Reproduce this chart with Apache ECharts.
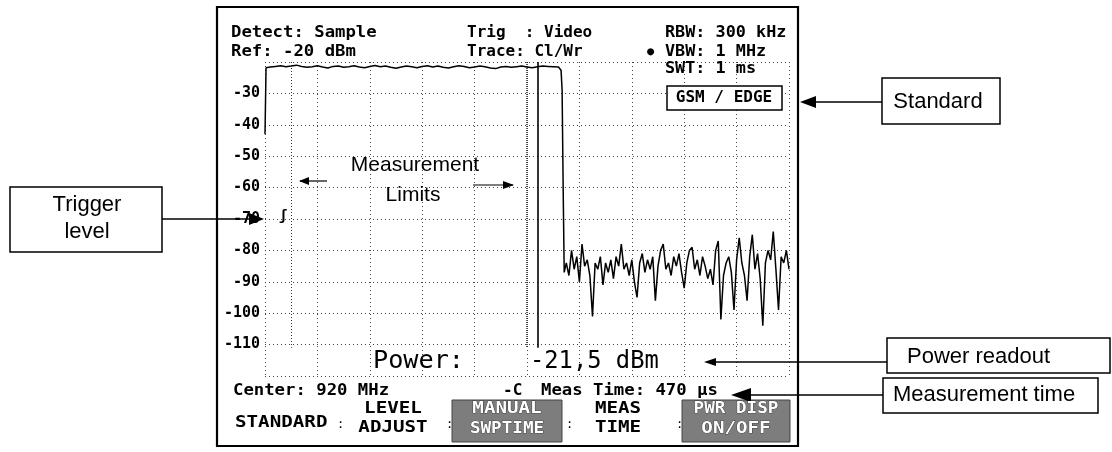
<!DOCTYPE html>
<html><head><meta charset="utf-8">
<script src="https://cdn.jsdelivr.net/npm/echarts@6/dist/echarts.min.js"></script>
<style>html,body{margin:0;padding:0;background:#fff}#c{width:1112px;height:452px}</style>
</head><body><div id="c"></div>
<script>
// ---- data (time in µs, level in dBm) ----
const yTicks = [-30,-40,-50,-60,-70,-80,-90,-100,-110];
const edgeTimes = [0, 2];
const edgeVals  = [-43, -21.8];
const burstStart = 10, burstStep = 10;
const burstVals = [
 -21.6,-21.4,-21.2,-21.5,-21.3,-21.0,-21.4,-21.7,-21.5,-21.2,
 -21.6,-21.9,-21.4,-21.3,-21.7,-21.5,-21.2,-21.6,-21.8,-21.4,
 -21.1,-21.5,-21.3,-21.7,-22.0,-21.6,-21.3,-21.5,-21.8,-21.4,
 -21.2,-21.6,-21.3,-21.7,-21.9,-21.5,-21.2,-21.4,-21.8,-21.6,
 -21.3,-21.5,-21.9,-22.1,-21.6,-21.4,-21.7,-21.5,-21.3,-21.6,
 -21.8,-21.5,-21.3,-21.4,-21.5,-21.6];
const fallTimes = [565, 567, 569, 571];
const fallVals  = [-22.6, -29, -60, -87];
const noiseStart = 575, noiseStep = 5;
const noiseVals = [
 -84,-88,-80,-86,-82,-90,-78,-85,-83,-88,
 -101,-84,-86,-82,-91,-84,-87,-83,-89,-82,
 -85,-78,-86,-84,-88,-83,-90,-95,-84,-81,
 -87,-83,-86,-82,-96,-85,-80,-78,-86,-84,
 -88,-82,-85,-81,-87,-92,-84,-80,-79,-86,
 -83,-88,-82,-85,-89,-86,-91,-80,-77,-102,
 -88,-84,-82,-87,-99,-83,-76,-84,-88,-96,
 -82,-75,-86,-81,-89,-104,-84,-80,-83,-74,
 -86,-99,-82,-84,-80,-86];
const limitLeft = 50, limitRightDotted = 500, limitRight = 520;
const limitTop = -20, limitBottom = -111;

const trace = [];
edgeTimes.forEach((t,i)=>trace.push([t, edgeVals[i]]));
burstVals.forEach((v,i)=>trace.push([burstStart + i*burstStep, v]));
fallTimes.forEach((t,i)=>trace.push([t, fallVals[i]]));
noiseVals.forEach((v,i)=>trace.push([noiseStart + i*noiseStep, v]));

// ---- drawing ----
const LCD = '"DejaVu Sans Mono", monospace';
const SANS = '"Liberation Sans", Arial, sans-serif';
function T(text, x, y, font, o) {
  o = o || {};
  return {type:'text', x:x, y:y, scaleX:o.sx||1, z:o.z||10, silent:true,
    style:{text:text, font:font, fill:o.fill||'#000',
      textAlign:o.align||'left', textVerticalAlign:'middle',
      align:o.align||'left', verticalAlign:'middle',
      stroke:o.stroke, lineWidth:o.lw||0}};
}
function R(x,y,w,h,o){o=o||{};return {type:'rect',silent:true,z:o.z||5,shape:{x:x,y:y,width:w,height:h},
  style:{fill:o.fill||'none',stroke:o.stroke===undefined?'#000':o.stroke,lineWidth:o.lw||1.5}};}
function L(x1,y1,x2,y2,o){o=o||{};return {type:'line',silent:true,z:o.z||6,shape:{x1:x1,y1:y1,x2:x2,y2:y2},
  style:{stroke:'#000',lineWidth:o.lw||1.2,lineDash:o.dash||null}};}
function P(pts){return {type:'polygon',silent:true,z:8,shape:{points:pts},style:{fill:'#000'}};}
function vLimit(x, style){return [{coord:[x, limitTop], lineStyle:style},{coord:[x, limitBottom]}];}

const hdr = 'bold 16px ' + LCD;
const graphics = [
  R(217,7,581,439,{lw:2.2}),
  T('Detect: Sample',231,33,hdr,{sx:1.08}),
  T('Ref: -20 dBm',231,52,hdr,{sx:1.08}),
  T('Trig  : Video',467,33,hdr,{sx:1.0}),
  T('Trace: Cl/Wr',467,52,hdr,{sx:1.0}),
  T('RBW: 300 kHz',665,33,hdr,{sx:1.05}),
  T('\u25CF',647,52,'bold 12px '+LCD),
  T('VBW: 1 MHz',665,52,hdr,{sx:1.05}),
  T('SWT: 1 ms',665,69,hdr,{sx:1.05}),
  R(667,86,115,24,{lw:1.5,fill:'#fff',z:9}),
  T('GSM / EDGE',724,98,hdr,{align:'center',z:11}),
  // measurement limits annotation
  T('Measurement',415,165,'21px '+SANS,{align:'center'}),
  T('Limits',413,195,'21px '+SANS,{align:'center'}),
  L(300,181,327,181,{lw:1.2}), P([[299,181],[309,177],[309,185]]),
  L(473,185,513,185,{lw:1.2}), P([[514,185],[503,181],[503,189]]),
  // trigger level
  L(162,219,262,219,{lw:1.3}), P([[264,219],[249,213],[249,225]]),
  T('\u0283',279,216,'bold 14px '+LCD),
  R(10,187,152,65,{lw:1.5}),
  T('Trigger',87,205,'22px '+SANS,{align:'center'}),
  T('level',87,232,'22px '+SANS,{align:'center'}),
  // standard callout
  R(882,78,118,46,{lw:1.5}),
  T('Standard',938,102,'22px '+SANS,{align:'center'}),
  L(812,102,882,102,{lw:1.3}), P([[800,102],[816,96],[816,108]]),
  // power readout
  T('Power:',373,362,'24px '+LCD,{sx:1.05}),
  T('-21,5 dBm',530,362,'24px '+LCD,{sx:0.99}),
  R(887,338,223,35,{lw:1.5}),
  T('Power readout',907,357,'22px '+SANS),
  L(712,362,887,362,{lw:1.3}), P([[704,362],[716,358],[716,366]]),
  // bottom status line
  T('Center: 920 MHz',233,391,hdr,{sx:1.08}),
  T('-C',503,391,'bold 16px '+LCD),
  T('Meas Time: 470 \u00B5s',541,391,hdr,{sx:1.08}),
  R(883,378,215,35,{lw:1.5}),
  T('Measurement time',893,395,'22px '+SANS),
  L(745,395,883,395,{lw:1.3}), P([[731,395],[751,388],[751,402]]),
  // softkeys
  T('STANDARD',235,423,'bold 16px '+LCD,{sx:1.2}),
  T(':',337,425,'12px '+LCD),
  T('LEVEL',393,409,'bold 16px '+LCD,{align:'center',sx:1.2}),
  T('ADJUST',393,428,'bold 16px '+LCD,{align:'center',sx:1.2}),
  T(':',446,425,'12px '+LCD),
  R(452,400,110,42,{fill:'#7d7d7d',stroke:'#444',lw:1}),
  T('MANUAL',507,409,'bold 16px '+LCD,{align:'center',sx:1.2,fill:'#fff',stroke:'#222',lw:0.6,z:12}),
  T('SWPTIME',507,429,'bold 16px '+LCD,{align:'center',sx:1.1,fill:'#fff',stroke:'#222',lw:0.6,z:12}),
  T(':',566,425,'12px '+LCD),
  T('MEAS',618,409,'bold 16px '+LCD,{align:'center',sx:1.2}),
  T('TIME',618,428,'bold 16px '+LCD,{align:'center',sx:1.2}),
  T(':',676,425,'12px '+LCD),
  R(682,400,108,42,{fill:'#7d7d7d',stroke:'#444',lw:1}),
  T('PWR DISP',736,409,'bold 16px '+LCD,{align:'center',sx:1.1,fill:'#fff',stroke:'#222',lw:0.6,z:12}),
  T('ON/OFF',736,429,'bold 16px '+LCD,{align:'center',sx:1.2,fill:'#fff',stroke:'#222',lw:0.6,z:12})
];

const chart = echarts.init(document.getElementById('c'), null, {renderer:'canvas'});
chart.setOption({
  animation:false,
  backgroundColor:'#fff',
  grid:{left:265, top:62, width:524, height:314},
  xAxis:{type:'value', min:0, max:1000, interval:100,
    axisLine:{show:false}, axisTick:{show:false}, axisLabel:{show:false},
    splitLine:{show:true, lineStyle:{color:'#444', width:1, type:[1,3]}}},
  yAxis:{type:'value', min:-120, max:-20, interval:10,
    axisLine:{show:false}, axisTick:{show:false},
    axisLabel:{margin:5, color:'#000', fontFamily:'DejaVu Sans Mono', fontWeight:'bold', fontSize:15,
      formatter:function(v){return yTicks.indexOf(v)>=0 ? String(v) : '';}},
    splitLine:{show:true, lineStyle:{color:'#444', width:1, type:[1,3]}}},
  series:[{
    type:'line', data:trace, showSymbol:false, symbol:'none',
    lineStyle:{color:'#000', width:1.5}, z:5,
    markLine:{silent:true, symbol:'none', label:{show:false},
      data:[
        vLimit(limitLeft, {color:'#333', width:1, type:[1,2]}),
        vLimit(limitRightDotted, {color:'#222', width:1.5, type:[1,1]}),
        vLimit(limitRight, {color:'#000', width:1.6, type:'solid'})
      ]}
  }],
  graphic:graphics
});
</script>
</body></html>
